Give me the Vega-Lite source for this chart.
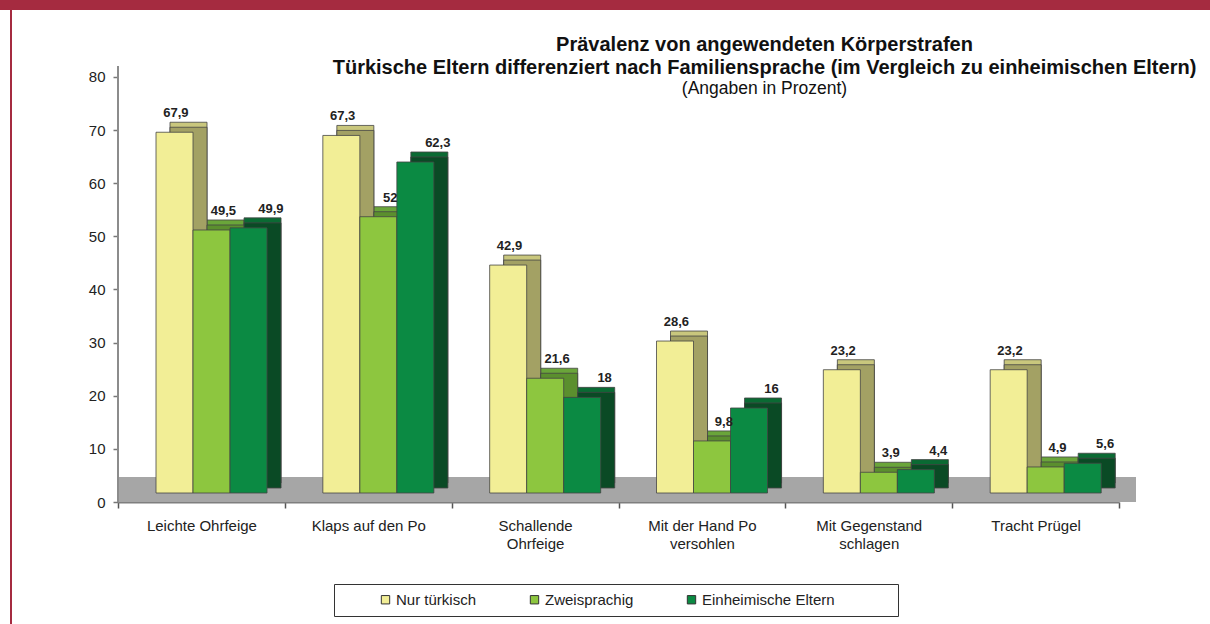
{
  "$schema": "https://vega.github.io/schema/vega-lite/v6.json",
  "padding": 0,
  "spacing": 0,
  "bounds": "flush",
  "background": "white",
  "config": {
    "font": "Liberation Sans",
    "view": {"stroke": null},
    "locale": {"number": {"decimal": ",", "thousands": ".", "grouping": [3], "currency": ["", " €"]}}
  },
  "vconcat": [
    {"width": 1210, "height": 10, "data": {"values": []}, "mark": "rect", "view": {"fill": "#a52b40", "stroke": null}},
    {
      "spacing": 0,
      "bounds": "flush",
      "hconcat": [
        {"width": 10, "height": 614, "data": {"values": []}, "mark": "rect", "view": {"stroke": null}},
        {"width": 2, "height": 614, "data": {"values": []}, "mark": "rect", "view": {"fill": "#a52b40", "stroke": null}},
        {"width": 106, "height": 614, "data": {"values": []}, "mark": "rect", "view": {"stroke": null}},
        {
          "width": 1001,
          "height": 492,
          "title": {
            "text": ["Prävalenz von angewendeten Körperstrafen", "Türkische Eltern differenziert nach Familiensprache (im Vergleich zu einheimischen Eltern)"],
            "subtitle": "(Angaben in Prozent)",
            "anchor": "middle",
            "frame": "group",
            "dx": 146,
            "offset": -87,
            "fontSize": 20,
            "lineHeight": 23,
            "fontWeight": "bold",
            "color": "#111",
            "subtitleFontSize": 17.5,
            "subtitleFontWeight": "normal",
            "subtitleColor": "#111",
            "subtitlePadding": 2
          },
          "data": {"values": [
            {"Kategorie": "Leichte Ohrfeige", "Gruppe": "Nur türkisch", "Wert": 67.9},
            {"Kategorie": "Leichte Ohrfeige", "Gruppe": "Zweisprachig", "Wert": 49.5},
            {"Kategorie": "Leichte Ohrfeige", "Gruppe": "Einheimische Eltern", "Wert": 49.9},
            {"Kategorie": "Klaps auf den Po", "Gruppe": "Nur türkisch", "Wert": 67.3},
            {"Kategorie": "Klaps auf den Po", "Gruppe": "Zweisprachig", "Wert": 52},
            {"Kategorie": "Klaps auf den Po", "Gruppe": "Einheimische Eltern", "Wert": 62.3},
            {"Kategorie": "Schallende Ohrfeige", "Gruppe": "Nur türkisch", "Wert": 42.9},
            {"Kategorie": "Schallende Ohrfeige", "Gruppe": "Zweisprachig", "Wert": 21.6},
            {"Kategorie": "Schallende Ohrfeige", "Gruppe": "Einheimische Eltern", "Wert": 18},
            {"Kategorie": "Mit der Hand Po versohlen", "Gruppe": "Nur türkisch", "Wert": 28.6},
            {"Kategorie": "Mit der Hand Po versohlen", "Gruppe": "Zweisprachig", "Wert": 9.8},
            {"Kategorie": "Mit der Hand Po versohlen", "Gruppe": "Einheimische Eltern", "Wert": 16},
            {"Kategorie": "Mit Gegenstand schlagen", "Gruppe": "Nur türkisch", "Wert": 23.2},
            {"Kategorie": "Mit Gegenstand schlagen", "Gruppe": "Zweisprachig", "Wert": 3.9},
            {"Kategorie": "Mit Gegenstand schlagen", "Gruppe": "Einheimische Eltern", "Wert": 4.4},
            {"Kategorie": "Tracht Prügel", "Gruppe": "Nur türkisch", "Wert": 23.2},
            {"Kategorie": "Tracht Prügel", "Gruppe": "Zweisprachig", "Wert": 4.9},
            {"Kategorie": "Tracht Prügel", "Gruppe": "Einheimische Eltern", "Wert": 5.6}
          ]},
          "resolve": {"scale": {"color": "independent", "xOffset": "independent"}},
          "layer": [
            {
              "mark": {"type": "rect", "color": "#a6a6a6", "xOffset": 17, "x2Offset": 17},
              "encoding": {
                "y": {"datum": 0, "type": "quantitative", "scale": {"domain": [0, 92.6], "nice": false}},
                "y2": {"datum": 4.7}
              }
            },
            {
              "mark": {"type": "rule", "color": "#8c8c8c", "strokeWidth": 2},
              "encoding": {
                "x": {"datum": "Leichte Ohrfeige", "type": "nominal", "bandPosition": 0},
                "y": {"datum": 0, "type": "quantitative"},
                "y2": {"datum": 81.9}
              }
            },
            {
              "mark": {"type": "bar", "yOffset": -19, "y2Offset": -19, "stroke": "#444", "strokeWidth": 0.8},
              "encoding": {
                "x": {"field": "Kategorie", "type": "nominal", "sort": null},
                "xOffset": {"field": "Gruppe", "type": "nominal", "sort": null, "scale": {"paddingInner": 0, "paddingOuter": 0.754, "align": 0.932}},
                "y": {"field": "Wert", "type": "quantitative"},
                "color": {"field": "Gruppe", "type": "nominal", "legend": null, "scale": {"domain": ["Nur türkisch", "Zweisprachig", "Einheimische Eltern"], "range": ["#c9c77d", "#6aa53a", "#0a6a33"]}}
              }
            },
            {
              "mark": {"type": "bar", "yOffset": -14, "y2Offset": -14, "stroke": "#444", "strokeWidth": 0.8},
              "encoding": {
                "x": {"field": "Kategorie", "type": "nominal", "sort": null},
                "xOffset": {"field": "Gruppe", "type": "nominal", "sort": null, "scale": {"paddingInner": 0, "paddingOuter": 0.754, "align": 0.932}},
                "y": {"field": "Wert", "type": "quantitative"},
                "color": {"field": "Gruppe", "type": "nominal", "legend": null, "scale": {"domain": ["Nur türkisch", "Zweisprachig", "Einheimische Eltern"], "range": ["#a3a164", "#5b8f2e", "#0a4a25"]}}
              }
            },
            {
              "mark": {"type": "bar", "yOffset": -9, "y2Offset": -9, "stroke": "#444", "strokeWidth": 0.8},
              "encoding": {
                "x": {
                  "field": "Kategorie", "type": "nominal", "sort": null, "title": null,
                  "scale": {"paddingInner": 0, "paddingOuter": 0},
                  "axis": {
                    "labelAngle": 0, "labelAlign": "center", "labelFontSize": 15, "labelColor": "#222", "labelPadding": 17, "labelLineHeight": 18,
                    "domainColor": "#7f7f7f", "domainWidth": 2, "tickBand": "extent", "tickSize": 6, "tickColor": "#555", "tickWidth": 1.5,
                    "labelExpr": "datum.label == 'Schallende Ohrfeige' ? ['Schallende', 'Ohrfeige'] : datum.label == 'Mit der Hand Po versohlen' ? ['Mit der Hand Po', 'versohlen'] : datum.label == 'Mit Gegenstand schlagen' ? ['Mit Gegenstand', 'schlagen'] : datum.label"
                  }
                },
                "xOffset": {"field": "Gruppe", "type": "nominal", "sort": null, "scale": {"paddingInner": 0, "paddingOuter": 0.754, "align": 0.681}},
                "y": {
                  "field": "Wert", "type": "quantitative", "title": null,
                  "axis": {"values": [0, 10, 20, 30, 40, 50, 60, 70, 80], "domain": false, "grid": false, "tickSize": 5, "tickColor": "#777", "tickWidth": 1.5, "labelFontSize": 15, "labelColor": "#222", "labelPadding": 8}
                },
                "color": {
                  "field": "Gruppe", "type": "nominal",
                  "scale": {"domain": ["Nur türkisch", "Zweisprachig", "Einheimische Eltern"], "range": ["#f2ee96", "#8dc63f", "#0b8a43"]},
                  "legend": {
                    "orient": "none", "legendX": 216, "legendY": 574, "direction": "horizontal",
                    "title": "\u00a0", "titleOrient": "right", "titleFontSize": 10, "titlePadding": 55,
                    "symbolType": "square", "symbolSize": 70, "symbolStrokeColor": "#333", "symbolStrokeWidth": 1, "symbolOffset": 36,
                    "labelFontSize": 15, "labelColor": "#222", "labelOffset": 3, "columnPadding": 14, "labelLimit": 400,
                    "strokeColor": "#333", "padding": 8
                  }
                }
              }
            },
            {
              "mark": {"type": "text", "dx": 9, "dy": -24, "fontSize": 13, "fontWeight": "bold", "color": "#222", "baseline": "alphabetic"},
              "encoding": {
                "x": {"field": "Kategorie", "type": "nominal", "sort": null},
                "xOffset": {"field": "Gruppe", "type": "nominal", "sort": null, "scale": {"paddingInner": 0, "paddingOuter": 0.754, "align": 0.681}},
                "y": {"field": "Wert", "type": "quantitative"},
                "text": {"field": "Wert", "type": "quantitative", "format": ".3~r"}
              }
            }
          ]
        }
      ]
    }
  ]
}
